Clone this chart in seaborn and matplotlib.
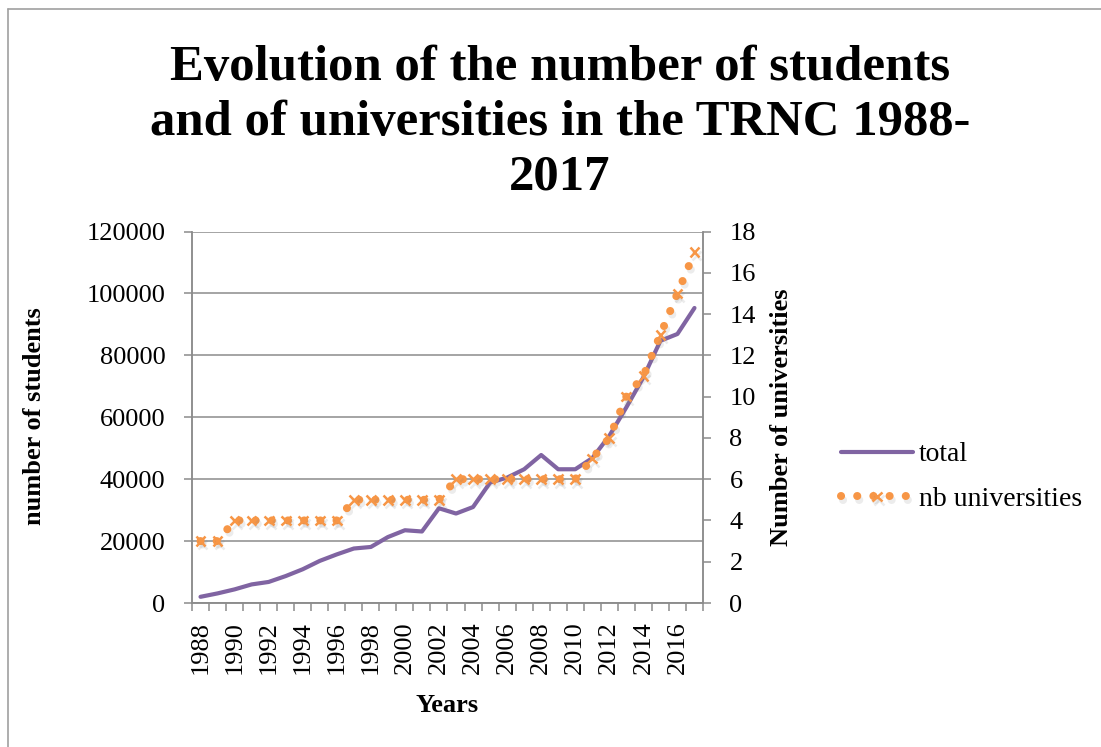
import numpy as np
import pandas as pd
import matplotlib
matplotlib.use("Agg")
import matplotlib.pyplot as plt
import matplotlib.patheffects as pe
from matplotlib.lines import Line2D
import seaborn as sns

years = list(range(1988, 2018))
total_students = [2000, 3100, 4400, 6000, 6800, 8700, 10900, 13600, 15700, 17600,
                  18100, 21300, 23500, 23100, 30600, 28900, 31000, 38900, 40500, 43200,
                  47800, 43200, 43200, 46800, 54000, 63200, 72900, 84700, 86900, 95300]
nb_universities = [3, 3, 4, 4, 4, 4, 4, 4, 4, 5,
                   5, 5, 5, 5, 5, 6, 6, 6, 6, 6,
                   6, 6, 6, 7, 8, 10, 11, 13, 15, 17]
left_ticks = [0, 20000, 40000, 60000, 80000, 100000, 120000]
right_ticks = list(range(0, 19, 2))

PURPLE = "#8064A2"
ORANGE = "#F79646"
GRID = "#8c8c8c"

df = pd.DataFrame({"year": years, "total": total_students, "nb": nb_universities})

sns.set_style("white")
plt.rcParams["font.family"] = ["Liberation Serif", "DejaVu Serif"]
plt.rcParams["text.color"] = "black"
plt.rcParams["xtick.labelcolor"] = "black"
plt.rcParams["ytick.labelcolor"] = "black"

W, H = 1101, 747
fig = plt.figure(figsize=(W / 100, H / 100), dpi=100)
ax = fig.add_axes([192 / W, 1 - 603 / H, (703 - 192) / W, (603 - 231.5) / H])
ax2 = ax.twinx()

sns.lineplot(data=df, x="year", y="total", ax=ax, color=PURPLE, lw=3.0,
             label="total", legend=False)
sns.lineplot(data=df, x="year", y="nb", ax=ax2, color=ORANGE, lw=5.8,
             marker="x", markersize=7, markeredgewidth=1.8, markeredgecolor=ORANGE,
             label="nb universities", legend=False)
uni_line = ax2.get_lines()[0]
uni_line.set_linestyle((0, (0.01, 2.0)))
uni_line.set_dash_capstyle("round")
uni_line.set_path_effects([pe.SimpleLineShadow(offset=(1.5, -2.5), shadow_color="gray", alpha=0.15),
                           pe.Normal()])

ax.set_xlim(1987.5, 2017.5)
ax.set_ylim(0, 120000)
ax2.set_ylim(0, 18)
ax.set_yticks(left_ticks)
ax.set_yticklabels([str(v) for v in left_ticks])
ax2.set_yticks(right_ticks)
ax2.set_yticklabels([str(v) for v in right_ticks])

ax.set_xticks(years[::2])
ax.set_xticklabels([str(y) for y in years[::2]], rotation=90)
ax.set_xticks(np.arange(1987.5, 2018, 1), minor=True)

ax.grid(axis="y", color=GRID, lw=1.1)
ax.set_axisbelow(True)
for a in (ax, ax2):
    for side, sp in a.spines.items():
        sp.set_color(GRID)
        sp.set_linewidth(1.1)
    a.spines["top"].set_visible(False)
    a.set_xlabel("")
    a.set_ylabel("")

ax.tick_params(axis="y", which="major", direction="out", length=6, width=1.1,
               color=GRID, labelcolor="black", labelsize=19, pad=13, left=True)
ax.tick_params(axis="x", which="major", length=0, labelsize=19, pad=13,
               labelcolor="black", bottom=True)
ax.tick_params(axis="x", which="minor", direction="out", length=6, width=1.1,
               color=GRID, bottom=True)
ax2.tick_params(axis="y", direction="out", length=6, width=1.1, color=GRID,
                labelcolor="black", labelsize=19, pad=13, right=True)

fig.text(560 / W, 1 - 45 / H,
         "Evolution of the number of students\nand of universities in the TRNC 1988-\n2017",
         ha="center", va="top", fontsize=36.5, fontweight="bold", linespacing=1.25,
         color="black")
fig.text(35 / W, 1 - 416 / H, "number of students", rotation=90, ha="center",
         va="center", fontsize=19, fontweight="bold", color="black")
fig.text(781 / W, 1 - 417 / H, "Number of universities", rotation=90, ha="center",
         va="center", fontsize=19, fontweight="bold", color="black")
fig.text(447 / W, 1 - 705 / H, "Years", ha="center", va="center",
         fontsize=19, fontweight="bold", color="black")

handles = [ax.get_lines()[0], uni_line]
leg = fig.legend(handles, ["total", "nb universities"], loc="center left",
                 bbox_to_anchor=(816 / W, 1 - 477 / H), frameon=False, fontsize=20,
                 handlelength=2.6, labelspacing=0.7, handletextpad=0.2)
for t in leg.get_texts():
    t.set_color("black")

# chart border (left and top edges visible in the reference)
fig.add_artist(Line2D([8 / W, 8 / W], [0, 1 - 9 / H], color="#a0a0a0", lw=1.2,
                      transform=fig.transFigure))
fig.add_artist(Line2D([8 / W, 1], [1 - 9 / H, 1 - 9 / H], color="#a0a0a0", lw=1.2,
                      transform=fig.transFigure))

fig.savefig("out.png", dpi=100)
